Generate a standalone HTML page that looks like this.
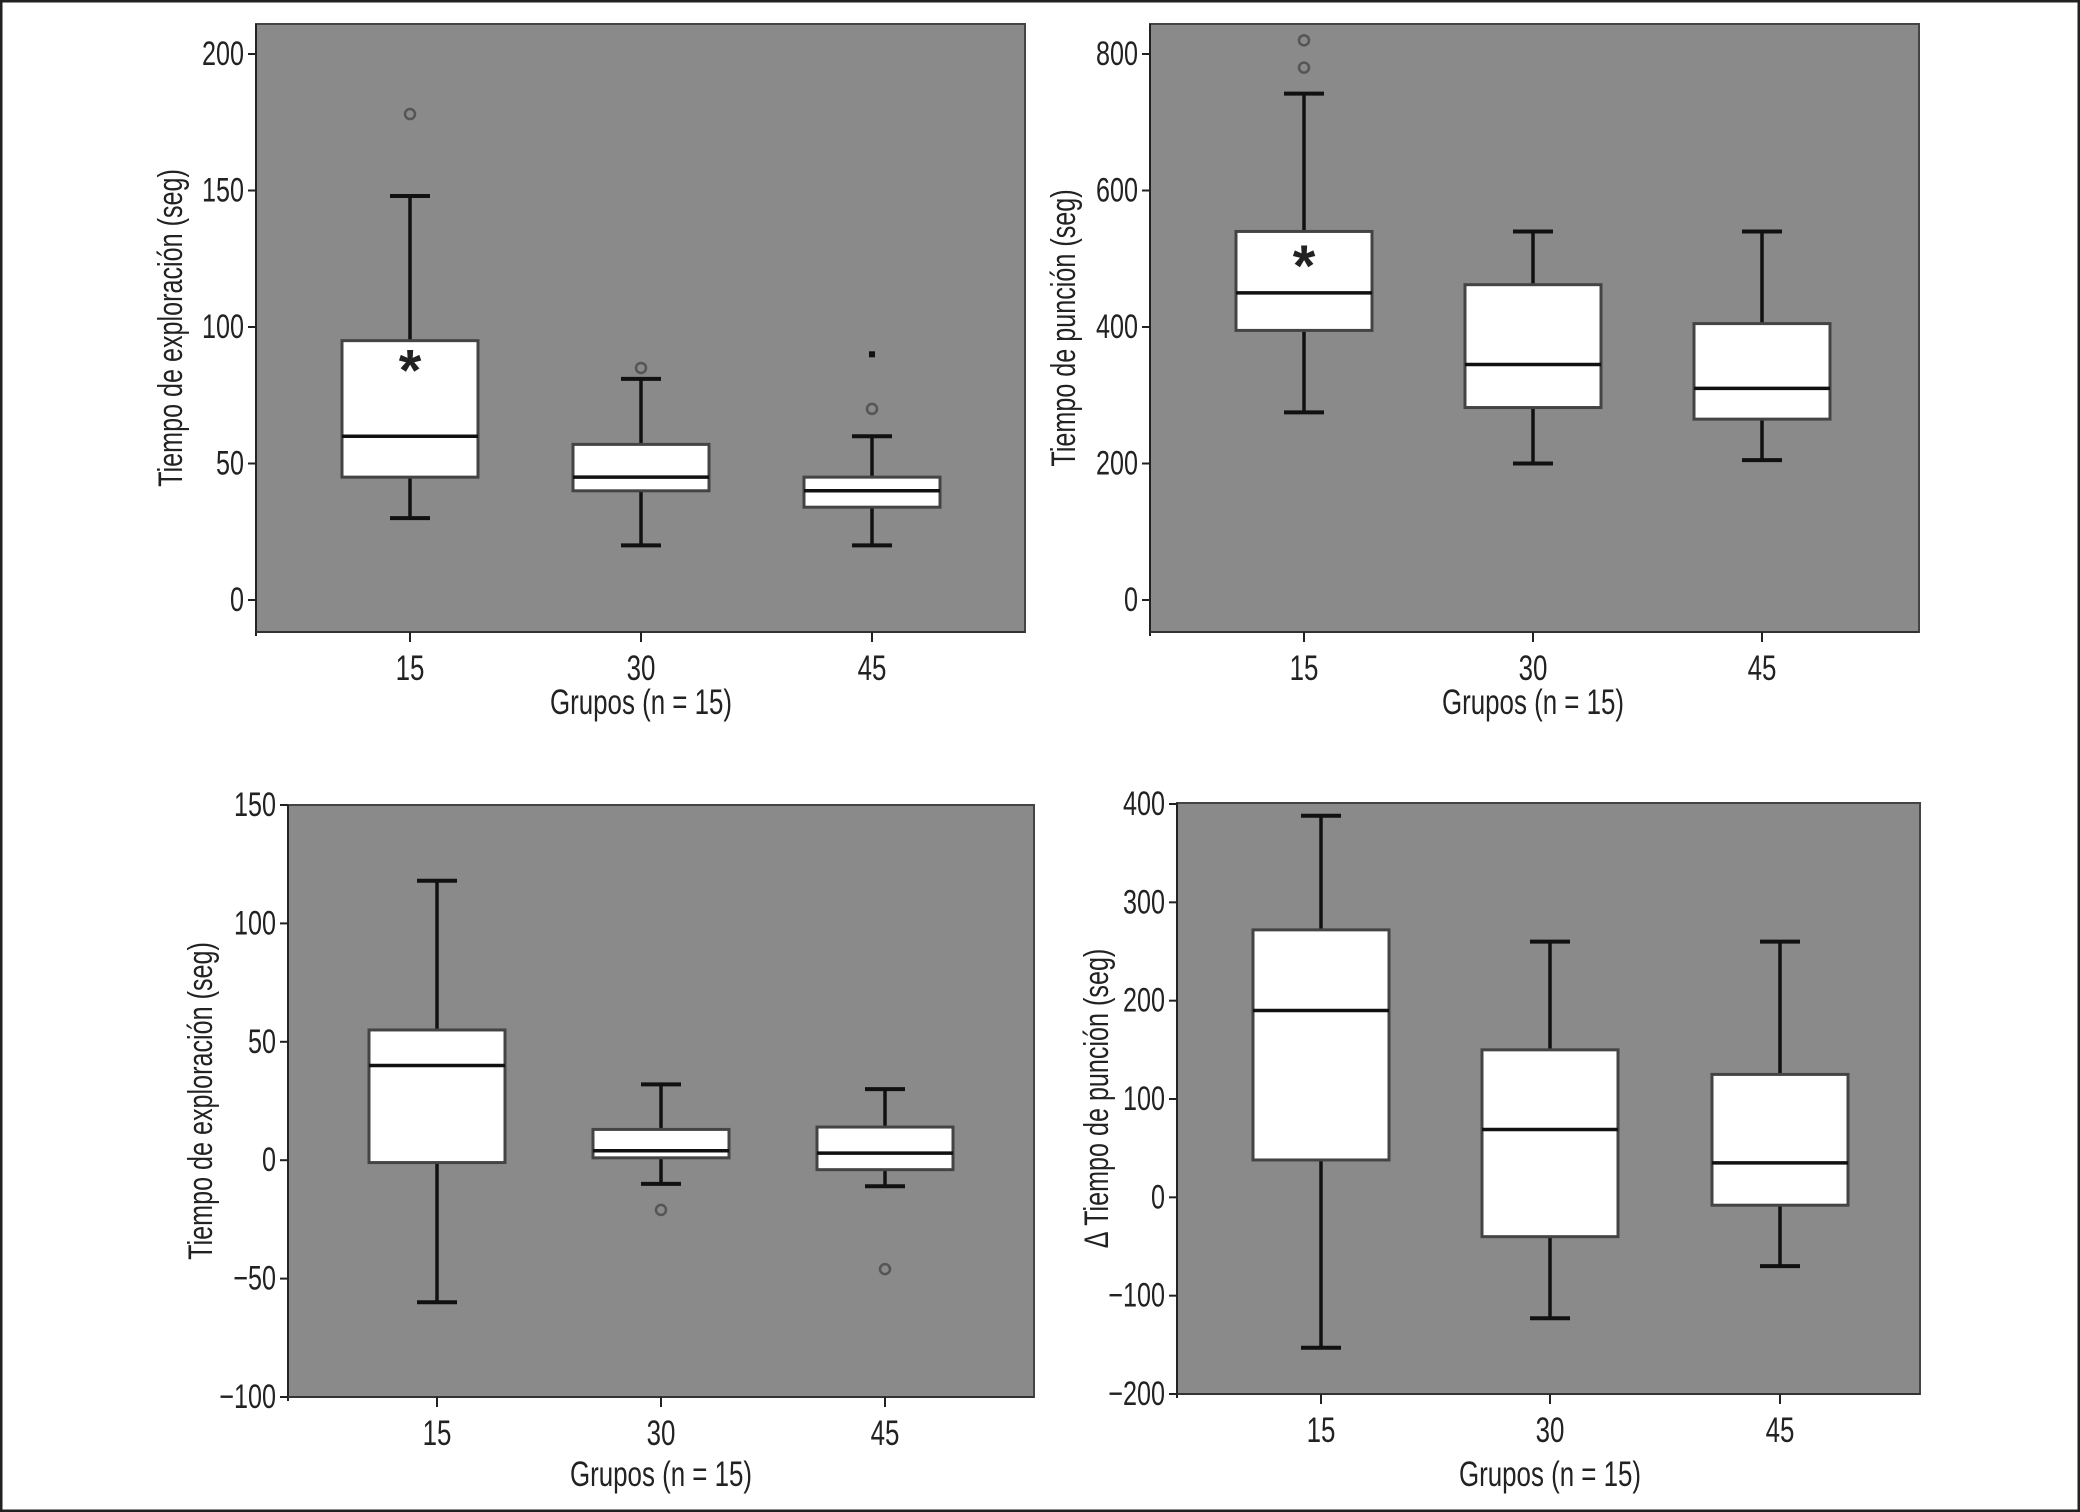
<!DOCTYPE html>
<html><head><meta charset="utf-8"><style>
html,body{margin:0;padding:0;background:#fff}
svg{display:block}
text{font-family:"Liberation Sans",sans-serif;fill:#222}
</style></head><body>
<svg id="fig" width="2080" height="1512" viewBox="0 0 2080 1512" xmlns="http://www.w3.org/2000/svg">
<rect x="1" y="1" width="2078" height="1510" fill="#fff" stroke="#222" stroke-width="3"/>
</svg>
<script>
const categories = ["15","30","45"];
// Panel A: Tiempo de exploración
const aLo = [30,20,20], aQ1 = [45,40,34], aMed = [60,45,40], aQ3 = [95,57,45], aHi = [148,81,60];
const aOutCat = [0,0,1,2], aOutVal = [178,85.5,85,70], aOutType=["o","*","o","o"];
const aExtremeCat=[2], aExtremeVal=[90];
const aTicks = [0,50,100,150,200];
// Panel B: Tiempo de punción
const bLo = [275,200,205], bQ1 = [395,282,265], bMed = [450,345,310], bQ3 = [540,462,405], bHi = [742,540,540];
const bOutCat = [0,0,0], bOutVal = [780,820,495], bOutType=["o","o","*"];
const bTicks = [0,200,400,600,800];
// Panel C: Tiempo de exploración (diferencia)
const cLo = [-60,-10,-11], cQ1 = [-1,1,-4], cMed = [40,4,3], cQ3 = [55,13,14], cHi = [118,32,30];
const cOutCat = [1,2], cOutVal = [-21,-46], cOutType=["o","o"];
const cTicks = [-100,-50,0,50,100,150];
// Panel D: Δ Tiempo de punción
const dLo = [-153,-123,-70], dQ1 = [38,-40,-8], dMed = [190,69,35], dQ3 = [272,150,125], dHi = [388,260,260];
const dTicks = [-200,-100,0,100,200,300,400];

const NS="http://www.w3.org/2000/svg";
const svg=document.getElementById('fig');
function mk(tag,attrs,parent){const e=document.createElementNS(NS,tag);for(const k in attrs)e.setAttribute(k,attrs[k]);(parent||svg).appendChild(e);return e;}
// condensed text: position via transform, horizontal squeeze
function ctext(parent,x,y,anchor,size,str,rot){
  const t=mk('text',{x:0,y:0,'text-anchor':anchor,'font-size':size,
    transform:`translate(${x},${y})${rot?' rotate(-90)':''} scale(0.74,1)`},parent);
  t.textContent=str;return t;
}

function panel(cfg){
  const g=mk('g',{});
  
  
  const y=v=>cfg.y0+(v-cfg.v0)*(cfg.y1-cfg.y0)/(cfg.v1-cfg.v0);
  const x=i=>cfg.cx[i];
  const bg=mk('rect',{x:cfg.L,y:cfg.T,width:cfg.R-cfg.L,height:cfg.B-cfg.T,fill:'#8a8a8a',stroke:'#444','stroke-width':2},g);
  
  
  mk('line',{x1:cfg.L,y1:cfg.T,x2:cfg.L,y2:cfg.B+4,stroke:'#222','stroke-width':2},g);
  mk('line',{x1:cfg.L,y1:cfg.B,x2:cfg.R,y2:cfg.B,stroke:'#333','stroke-width':2},g);
  cfg.ticks.forEach(t=>{
    mk('line',{x1:cfg.L-8,y1:y(t),x2:cfg.L,y2:y(t),stroke:'#222','stroke-width':2},g);
    const tx=ctext(g,cfg.L-12,y(t)+11,'end',34,(t<0?'\u2212'+(-t):String(t)));
    
    
  });
  categories.forEach((c,i)=>{
    mk('line',{x1:x(i),y1:cfg.B,x2:x(i),y2:cfg.B+10,stroke:'#222','stroke-width':2},g);
    const tx=ctext(g,x(i),cfg.B+48,'middle',35,c);
    
    
    const bw=136,cap=40;
    const bx=mk('g',{},g);
    
    
    mk('line',{x1:x(i),y1:y(cfg.hi[i]),x2:x(i),y2:y(cfg.q3[i]),stroke:'#111','stroke-width':3.5},bx);
    mk('line',{x1:x(i),y1:y(cfg.lo[i]),x2:x(i),y2:y(cfg.q1[i]),stroke:'#111','stroke-width':3.5},bx);
    mk('line',{x1:x(i)-cap/2,y1:y(cfg.hi[i]),x2:x(i)+cap/2,y2:y(cfg.hi[i]),stroke:'#111','stroke-width':4},bx);
    mk('line',{x1:x(i)-cap/2,y1:y(cfg.lo[i]),x2:x(i)+cap/2,y2:y(cfg.lo[i]),stroke:'#111','stroke-width':4},bx);
    mk('rect',{x:x(i)-bw/2,y:y(cfg.q3[i]),width:bw,height:y(cfg.q1[i])-y(cfg.q3[i]),fill:'#fff',stroke:'#444','stroke-width':3},bx);
    mk('line',{x1:x(i)-bw/2,y1:y(cfg.med[i]),x2:x(i)+bw/2,y2:y(cfg.med[i]),stroke:'#111','stroke-width':3.5},bx);
  });
  (cfg.oc||[]).forEach((ci,k)=>{
    if(cfg.ot[k]==='*'){
      const s=mk('text',{x:x(ci),y:y(cfg.ov[k])+24,'text-anchor':'middle','font-size':58,'font-weight':'bold'},g);
      s.textContent='*';
      
      
    } else {
      const o=mk('circle',{cx:x(ci),cy:y(cfg.ov[k]),r:5,fill:'none',stroke:'#555','stroke-width':2.5},g);
      
      
    }
  });
  (cfg.ec||[]).forEach((ci,k)=>{
    const o=mk('rect',{x:x(ci)-3,y:y(cfg.ev[k])-3,width:6,height:6,fill:'#111'},g);
    
    
  });
  const yt=ctext(g,cfg.ytx,(cfg.T+cfg.B)/2,'middle',34,cfg.ytitle,true);
  
  
  const xt=ctext(g,x(1),cfg.xty,'middle',35,'Grupos (n = 15)');
  
  
}

panel({name:'panel-exploracion',L:256,R:1025,T:24,B:632,v0:0,v1:200,y0:600,y1:54,cx:[410,641,872],
  lo:aLo,q1:aQ1,med:aMed,q3:aQ3,hi:aHi,oc:aOutCat,ov:aOutVal,ot:aOutType,ec:aExtremeCat,ev:aExtremeVal,ticks:aTicks,
  ytitle:'Tiempo de exploración (seg)',ytx:182,xty:714});
panel({name:'panel-puncion',L:1150,R:1919,T:24,B:632,v0:0,v1:800,y0:600,y1:54,cx:[1304,1533,1762],
  lo:bLo,q1:bQ1,med:bMed,q3:bQ3,hi:bHi,oc:bOutCat,ov:bOutVal,ot:bOutType,ticks:bTicks,
  ytitle:'Tiempo de punción (seg)',ytx:1075,xty:714});
panel({name:'panel-exploracion-delta',L:288,R:1034,T:805,B:1397,v0:-100,v1:150,y0:1397,y1:805,cx:[437,661,885],
  lo:cLo,q1:cQ1,med:cMed,q3:cQ3,hi:cHi,oc:cOutCat,ov:cOutVal,ot:cOutType,ticks:cTicks,
  ytitle:'Tiempo de exploración (seg)',ytx:212,xty:1486});
panel({name:'panel-puncion-delta',L:1177,R:1920,T:803,B:1394,v0:-200,v1:400,y0:1394,y1:804,cx:[1321,1550,1780],
  lo:dLo,q1:dQ1,med:dMed,q3:dQ3,hi:dHi,ticks:dTicks,
  ytitle:'\u0394 Tiempo de punción (seg)',ytx:1108,xty:1486});
</script>
</body></html>
